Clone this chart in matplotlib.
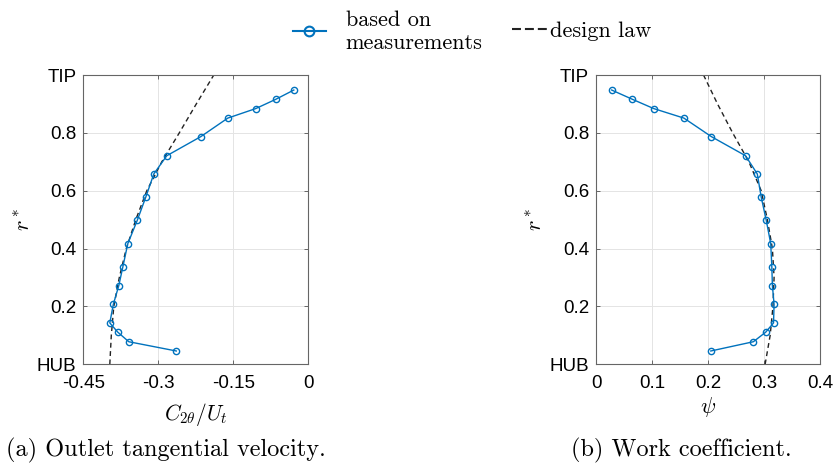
import matplotlib
matplotlib.use("Agg")
import matplotlib.pyplot as plt
from matplotlib.lines import Line2D

plt.rcParams['mathtext.fontset'] = 'cm'
plt.rcParams['font.family'] = ['Liberation Sans', 'DejaVu Sans']

# ---------------- data ----------------
r_meas = [0.948, 0.916, 0.884, 0.851, 0.787, 0.721, 0.658, 0.578, 0.498,
          0.417, 0.336, 0.272, 0.207, 0.143, 0.111, 0.078, 0.046]
c2t_meas = [-0.029, -0.065, -0.105, -0.161, -0.215, -0.283, -0.309, -0.325,
            -0.342, -0.361, -0.371, -0.379, -0.390, -0.397, -0.381, -0.359, -0.264]
psi_meas = [0.028, 0.065, 0.103, 0.157, 0.206, 0.267, 0.288, 0.295, 0.304,
            0.312, 0.314, 0.315, 0.318, 0.317, 0.303, 0.281, 0.205]

r_design = [0.0, 0.1, 0.2, 0.3, 0.4, 0.5, 0.6, 0.7, 0.8, 0.9, 1.0]
c2t_design = [-0.397, -0.394, -0.389, -0.378, -0.364, -0.345, -0.323,
              -0.293, -0.258, -0.224, -0.189]
psi_design = [0.302, 0.311, 0.316, 0.318, 0.315, 0.306, 0.295,
              0.273, 0.244, 0.217, 0.192]

y_ticks = [0, 0.2, 0.4, 0.6, 0.8, 1.0]
y_ticklabels = ['HUB', '0.2', '0.4', '0.6', '0.8', 'TIP']
x1_ticks = [-0.45, -0.3, -0.15, 0]
x1_ticklabels = ['-0.45', '-0.3', '-0.15', '0']
x2_ticks = [0, 0.1, 0.2, 0.3, 0.4]
x2_ticklabels = ['0', '0.1', '0.2', '0.3', '0.4']

blue = '#0072BD'
W, H = 835, 466
fig = plt.figure(figsize=(W / 100, H / 100), dpi=100)

def px_axes(l, t, r, b):
    return fig.add_axes([l / W, 1 - b / H, (r - l) / W, (b - t) / H])

ax1 = px_axes(83.3, 75, 308.3, 364.3)
ax2 = px_axes(596, 75, 820, 364.3)

def style(ax, xticks, xlabels, xlim):
    ax.set_xlim(*xlim)
    ax.set_ylim(0, 1)
    ax.set_xticks(xticks)
    ax.set_xticklabels(xlabels)
    ax.set_yticks(y_ticks)
    ax.set_yticklabels(y_ticklabels)
    ax.grid(True, color='#e4e4e4', lw=0.7)
    ax.set_axisbelow(True)
    for s in ax.spines.values():
        s.set_color('#666666')
        s.set_linewidth(0.8)
    ax.tick_params(direction='in', length=3, width=0.7, color='#666666',
                   top=True, right=True, labelsize=13.5, labelcolor='black')
    ax.tick_params(axis='y', pad=5)
    ax.tick_params(axis='x', pad=7.5)
    ax.set_ylabel(r'$r^*$', fontsize=16)

style(ax1, x1_ticks, x1_ticklabels, (-0.45, 0))
style(ax2, x2_ticks, x2_ticklabels, (0, 0.4))

for ax, xm, xd in [(ax1, c2t_meas, c2t_design), (ax2, psi_meas, psi_design)]:
    ax.plot(xd, r_design, color='#222222', lw=1.0, ls=(0, (3.5, 2.5)), zorder=2)
    ax.plot(xm, r_meas, color=blue, lw=1.0, marker='o', ms=4.5,
            mfc='none', mew=1.0, zorder=3)

ax1.set_xlabel(r'$C_{2\theta}/U_t$', fontsize=15.5)
ax2.set_xlabel(r'$\psi$', fontsize=16)
ax1.xaxis.set_label_coords(0.5, -(415 - 364.3) / 289.3)
ax2.xaxis.set_label_coords(0.5, -(407 - 364.3) / 289.3)
ax1.xaxis.label.set_va('center')
ax2.xaxis.label.set_va('center')
ax1.yaxis.set_label_coords(-0.215, 0.5)
ax2.yaxis.set_label_coords(-0.22, 0.5)

# captions
fig.text(165.5 / W, 1 - 450 / H, '(a) Outlet tangential velocity.',
         family='cmr10', fontsize=17.5, ha='center', va='center')
fig.text(681 / W, 1 - 450 / H, '(b) Work coefficient.',
         family='cmr10', fontsize=17.5, ha='center', va='center')

# legends
h1 = Line2D([], [], color=blue, lw=1.5, marker='o', ms=7, mfc='none', mew=1.5)
h2 = Line2D([], [], color='#222222', lw=1.5, ls=(0, (4.3, 1.9)))
leg1 = fig.legend([h1], ['based on\nmeasurements'], loc='center left',
                  bbox_to_anchor=(292.5 / W, 1 - 31.5 / H), frameon=False,
                  prop={'family': 'cmr10', 'size': 16}, handlelength=1.5,
                  handletextpad=0.9, borderpad=0, borderaxespad=0)
leg2 = fig.legend([h2], ['design law'], loc='center left',
                  bbox_to_anchor=(511.5 / W, 1 - 31.5 / H), frameon=False,
                  prop={'family': 'cmr10', 'size': 16}, handlelength=1.65,
                  handletextpad=0.1, borderpad=0, borderaxespad=0)

fig.savefig('out.png', dpi=100)
